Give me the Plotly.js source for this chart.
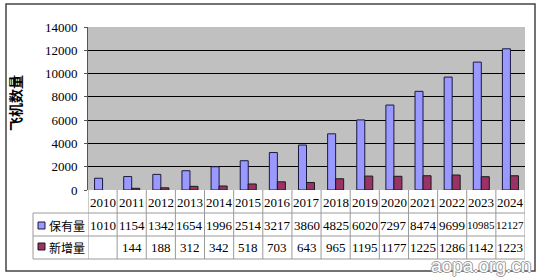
<!DOCTYPE html>
<html><head><meta charset="utf-8">
<script src="https://cdn.plot.ly/plotly-3.0.1.min.js"></script>
<style>body{margin:0;background:#fff}#c{width:540px;height:278px}</style>
</head><body><div id="c"></div>
<script>
var years = ['2010','2011','2012','2013','2014','2015','2016','2017','2018','2019','2020','2021','2022','2023','2024'];
var stock = [1010,1154,1342,1654,1996,2514,3217,3860,4825,6020,7297,8474,9699,10985,12127];
var added = [null,144,188,312,342,518,703,643,965,1195,1177,1225,1286,1142,1223];
var seriesNames = ['保有量','新增量'];
var seriesColors = ['#9999FF','#993366'];
var yTitle = '飞机数量';
var watermark = 'aopa.org.cn';

var W = 540, H = 278, L = 88, R = 15, T = 27, B = 88;
var pw = W - L - R, ph = H - T - B;
function px(x){ return (x - L) / pw; }
function py(y){ return (H - B - y) / ph; }

function numFont(txt){ return {family:'Liberation Serif', size:(txt && txt.length > 4) ? 11 : 13, color:'#000'}; }
function cjkFont(){ return {family:'Noto Sans CJK SC', size:12, color:'#000'}; }
var lineCol = '#9a9a9a';

var traces = [
  {type:'bar', x:years, y:stock, name:seriesNames[0], marker:{color:seriesColors[0], line:{color:'#1a1a40', width:1}}},
  {type:'bar', x:years, y:added, name:seriesNames[1], marker:{color:seriesColors[1], line:{color:'#1a1a1a', width:1}}}
];

var rowY = [py(213), py(236), py(259)];
var shapes = [];
for (var r = 0; r < 3; r++) {
  shapes.push({type:'line', xref:'paper', yref:'paper', x0:px(33), x1:1, y0:rowY[r], y1:rowY[r], line:{color:lineCol, width:1}});
}
shapes.push({type:'line', xref:'paper', yref:'paper', x0:px(33), x1:px(33), y0:rowY[0], y1:rowY[2], line:{color:lineCol, width:1}});
for (var i = 0; i <= years.length; i++) {
  shapes.push({type:'line', xref:'x', yref:'paper', x0:i-0.5, x1:i-0.5, y0:0, y1:rowY[2], line:{color:lineCol, width:1}});
}
shapes.push({type:'rect', xref:'paper', yref:'paper', x0:px(38), x1:px(45), y0:py(229), y1:py(222), fillcolor:seriesColors[0], line:{color:'#1a1a40', width:1}});
shapes.push({type:'rect', xref:'paper', yref:'paper', x0:px(38), x1:px(45), y0:py(250), y1:py(243), fillcolor:seriesColors[1], line:{color:'#1a1a1a', width:1}});
shapes.push({type:'rect', xref:'paper', yref:'paper', x0:px(6), x1:px(535), y0:py(271), y1:py(4), line:{color:'#444', width:1.5}, layer:'above'});

var ann = [];
var rowText = [py(202), py(225), py(247)];
for (var i = 0; i < years.length; i++) {
  ann.push({xref:'x', yref:'paper', x:i, y:rowText[0], text:years[i], showarrow:false, font:numFont(years[i]), xanchor:'center', yanchor:'middle'});
  ann.push({xref:'x', yref:'paper', x:i, y:rowText[1], text:String(stock[i]), showarrow:false, font:numFont(String(stock[i])), xanchor:'center', yanchor:'middle'});
  if (added[i] !== null) ann.push({xref:'x', yref:'paper', x:i, y:rowText[2], text:String(added[i]), showarrow:false, font:numFont(String(added[i])), xanchor:'center', yanchor:'middle'});
}
ann.push({xref:'paper', yref:'paper', x:px(47), y:rowText[1], text:seriesNames[0], showarrow:false, font:cjkFont(), xanchor:'left', yanchor:'middle'});
ann.push({xref:'paper', yref:'paper', x:px(47), y:rowText[2], text:seriesNames[1], showarrow:false, font:cjkFont(), xanchor:'left', yanchor:'middle'});
ann.push({xref:'paper', yref:'paper', x:px(15), y:py(103), text:'<b>'+yTitle+'</b>', textangle:-90, showarrow:false, font:{family:'Noto Sans CJK SC', size:14, color:'#000'}, xanchor:'center', yanchor:'middle'});
ann.push({xref:'paper', yref:'paper', x:px(481), y:py(265), text:watermark, showarrow:false, font:{family:'Liberation Sans', size:19, color:'#ffffff', shadow:'1px 0 0 #999, -1px 0 0 #999, 0 1px 0 #999, 0 -1px 0 #999'}, xanchor:'center', yanchor:'middle'});

var layout = {
  width:W, height:H,
  font:{family:'Liberation Serif', size:13, color:'#000'},
  margin:{l:L, r:R, t:T, b:B, pad:0},
  paper_bgcolor:'#ffffff', plot_bgcolor:'#c0c0c0',
  barmode:'group', bargap:0.45, bargroupgap:0,
  showlegend:false,
  xaxis:{type:'category', range:[-0.5, 14.5], showticklabels:false, ticks:'', showgrid:false, zeroline:false, showline:false},
  yaxis:{range:[0,14000], dtick:2000, tickformat:'d', showgrid:true, gridcolor:'#000', gridwidth:1, zeroline:false, showline:true, linecolor:'#555', linewidth:1,
         ticks:'outside', ticklen:3, tickcolor:'#555', tickfont:numFont('0000'), ticklabelstandoff:4},
  shapes:shapes, annotations:ann
};
Plotly.newPlot('c', traces, layout, {displayModeBar:false, staticPlot:true});
</script></body></html>
